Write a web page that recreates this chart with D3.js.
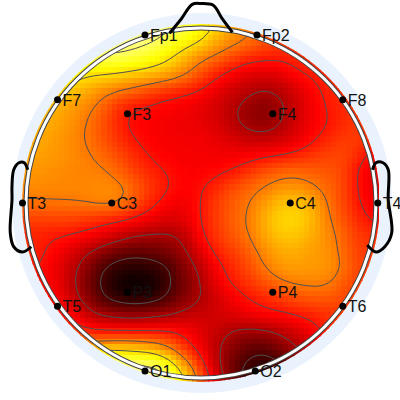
<!DOCTYPE html>
<html><head><meta charset="utf-8">
<script src="https://cdn.jsdelivr.net/npm/d3@7"></script>
<style>html,body{margin:0;padding:0;background:#fff}svg{display:block}text{font-family:"Liberation Sans",Arial,sans-serif}</style>
</head><body><svg id="c" width="400" height="400"></svg>
<script>
// amplitude, percent of the hot colour range, on a 23 x 23 lattice
const amplitudeRows = [
[90,90,90,90,90,90,90,92,92,88,82,76,69,62,56,52,50,48,47,46,46,46,46],
[90,90,90,90,90,88,90,88,85,79,74,70,62,57,54,49,46,45,45,45,45,45,45],
[88,86,84,82,80,83,82,79,76,71,64,56,52,47,42,41,41,43,45,47,47,47,47],
[80,80,78,74,71,69.5,68,66.5,64,61,56,49,42,36,33,32,33,38,41,44,46,46,46],
[74,72,70,66,62,58,54.5,51,47,44,41.5,39,34,30,27,24,27,31,37,42,44,46,46],
[68,66,63,60,57,51,43,40.5,38.5,37,36,34,31,26.5,22,19,22.5,30,36,41,43,46,46],
[66,64,62,59,54.5,49,42,37.5,36.5,36,35,34,32,27,22,20,24.5,31,36,40,43,46,44],
[64,62,60,57.5,54,49,44,39.5,37,36,36,36,34,32,29,28.5,30,33,38.5,43,46,46,42],
[62,61,60,58,56,52,48,43,39,37,36,36,36,36,36.5,38,39.5,42,45,47,48,43,36],
[60,59,58,57,56.5,56,51,46,42,39.5,37,37,38,40,44,49,52,52.5,51,50,47,38,34],
[58,58,57.5,57,57,58,57,51,45,40.5,37.5,39,43,48,52,55,58,59,56,52,48,38,34],
[54,54,54.5,55,56,57.5,56,49,42,37,35,39.8,46,51,54.5,60,66,67,63,54.5,47,40,35],
[47,47,47,47,45,43,41.5,38.5,35,32,34,39.8,46,51,55.5,63,69,69,65,56,49,42.5,38],
[43,41.5,41,39.5,38,34.5,30,25.5,24.5,24,27,38.5,45,50.5,54.5,62,67,67,63,58,52,45,44],
[44,42,37,33,26,20,15.5,14,15,18,24,33,42.5,46,51,58,62,63,60,59,52,46,46],
[44,39,35,28,19,10,5.5,4,6,9,19,27,37,43,48,55,60,61,60,60,54,47,46],
[42,38,36,27,17,7,1,0,1,8,17,24.5,35,41,45,49,53.5,56,56.5,56,50,46,46],
[50,42,38,29,20,10,6,4,6,11,19,24.5,30,35,39.5,42,45.5,48,50,50,48,46,46],
[55,48,42,38,29,24,22,21.5,23,25,28,30,31,33,35.5,38,38.5,40.5,42,44,46,46,46],
[60,52,48,45,41.5,40.2,39.8,39.8,39.8,40,37.5,33,29,24.5,22.5,23.5,27,31,37,43,46,46,46],
[70,70,70,66,62,64,65,64,61,55,44,36,27,20,15,13,19,24.5,31,38,44,46,46],
[85,85,85,85,88,90,88,85,85,76,60,44,28,15,8,5.5,8.5,19,30,38,44,46,46],
[90,90,90,92,95,95,95,92,90,88,72,52,34,16,6,3,6,16,28,38,44,46,46]
];
const contourLevels = [10,25,40,55,70,85];
const colourStops = [0,37.5,75,100];
const colourNames = ["#0a0000","#ff0000","#ffff00","#ffffff"];
// electrodes in head units (x right, y up; the head circle has radius 1)
const electrodeNames = ["Fp1","Fp2","F7","F3","F4","F8","T3","C3","C4","T4","T5","P3","P4","T6","O1","O2"];
const electrodeX = [-0.32,0.32,-0.82,-0.42,0.41,0.81,-1.02,-0.51,0.51,1.01,-0.82,-0.42,0.41,0.81,-0.32,0.31];
const electrodeY = [0.96,0.96,0.59,0.51,0.51,0.59,0,0,0,0,-0.59,-0.51,-0.51,-0.59,-0.96,-0.96];
const noseX = [-0.18,-0.114,-0.05,0.0,0.07,0.12,0.18];
const noseY = [0.97,1.05,1.135,1.14,1.13,1.055,0.975];
const leftEarX = [-0.99,-1.01,-1.04,-1.07,-1.08,-1.08,-1.09,-1.07,-1.02,-0.97];
const leftEarY = [0.19,0.23,0.23,0.19,0.10,0.02,-0.17,-0.25,-0.28,-0.25];
const rightEarX = [0.98,1.0,1.04,1.07,1.07,1.09,1.05,1.0,0.95];
const rightEarY = [0.19,0.23,0.23,0.19,0.02,-0.17,-0.25,-0.28,-0.24];

const x = d3.scaleLinear([-1,1],[26,376]);
const y = d3.scaleLinear([1,-1],[28,378]);
const gridX = d3.scaleLinear([0,22],[24,376]);
const gridY = d3.scaleLinear([0,22],[27,379]);
const colour = d3.scaleLinear(colourStops,colourNames).clamp(true);
const svg = d3.select("#c");
const cx = x(0), cy = y(0), rHead = x(1)-x(0);

// finer display lattice (Catmull-Rom resampling of the read values, lightly smoothed)
const factor = 3, n = 22*factor+1;
const cr=(a,b,c,d,t)=>0.5*(2*b+(c-a)*t+(2*a-5*b+4*c-d)*t*t+(3*b-a-3*c+d)*t*t*t);
const at=(i,j)=>amplitudeRows[Math.max(0,Math.min(22,j))][Math.max(0,Math.min(22,i))];
const sample=(u,v)=>{const i=Math.min(21,Math.floor(u)),j=Math.min(21,Math.floor(v)),s=u-i,t=v-j;
  const col=k=>cr(at(k,j-1),at(k,j),at(k,j+1),at(k,j+2),t);
  return cr(col(i-1),col(i),col(i+1),col(i+2),s);};
const fine=new Array(n*n);
for(let j=0;j<n;j++)for(let i=0;i<n;i++)fine[j*n+i]=sample(i/factor,j/factor);
d3.blur2({data:fine,width:n,height:n},1);

const defs=svg.append("defs");
defs.append("clipPath").attr("id","heatClip").append("circle").attr("cx",cx).attr("cy",cy).attr("r",rHead+4);
defs.append("clipPath").attr("id","lineClip").append("circle").attr("cx",cx).attr("cy",cy).attr("r",rHead);

svg.append("circle").attr("cx",cx+1).attr("cy",cy).attr("r",190).attr("fill","#eaf3fd");

const cells=[];for(let j=0;j<n;j++)for(let i=0;i<n;i++)cells.push({i,j,v:fine[j*n+i]});
const cw=(gridX(1)-gridX(0))/factor;
svg.append("g").attr("clip-path","url(#heatClip)").attr("shape-rendering","crispEdges")
  .selectAll("rect").data(cells).join("rect")
  .attr("x",d=>gridX(d.i/factor)-cw/2).attr("y",d=>gridY(d.j/factor)-cw/2)
  .attr("width",cw+0.5).attr("height",cw+0.5).attr("fill",d=>colour(d.v));

const toPx=d3.geoTransform({point(a,b){this.stream.point(gridX((a-0.5)/factor),gridY((b-0.5)/factor));}});
const cs=d3.contours().size([n,n]).smooth(true).thresholds(contourLevels)(fine);
svg.append("g").attr("clip-path","url(#lineClip)").selectAll("path").data(cs).join("path")
  .attr("d",d3.geoPath(toPx)).attr("fill","none").attr("stroke","#505050").attr("stroke-width",1);

svg.append("circle").attr("cx",cx).attr("cy",cy).attr("r",rHead).attr("fill","none").attr("stroke","#444").attr("stroke-width",5);
svg.append("circle").attr("cx",cx).attr("cy",cy).attr("r",rHead).attr("fill","none").attr("stroke","#fff").attr("stroke-width",3);

const line=d3.line().x(d=>x(d[0])).y(d=>y(d[1])).curve(d3.curveCatmullRom);
[[noseX,noseY],[leftEarX,leftEarY],[rightEarX,rightEarY]].forEach(([a,b])=>{
  svg.append("path").attr("d",line(a.map((v,k)=>[v,b[k]]))).attr("fill","none").attr("stroke","#000").attr("stroke-width",3);
});

const idx=d3.range(electrodeNames.length);
svg.append("g").selectAll("circle").data(idx).join("circle")
  .attr("cx",i=>x(electrodeX[i])).attr("cy",i=>y(electrodeY[i])).attr("r",3.5).attr("fill","#000");
svg.append("g").selectAll("text").data(idx).join("text")
  .attr("x",i=>x(electrodeX[i])+5).attr("y",i=>y(electrodeY[i])+6)
  .attr("font-size",16).attr("fill","#111").text(i=>electrodeNames[i]);
</script></body></html>
